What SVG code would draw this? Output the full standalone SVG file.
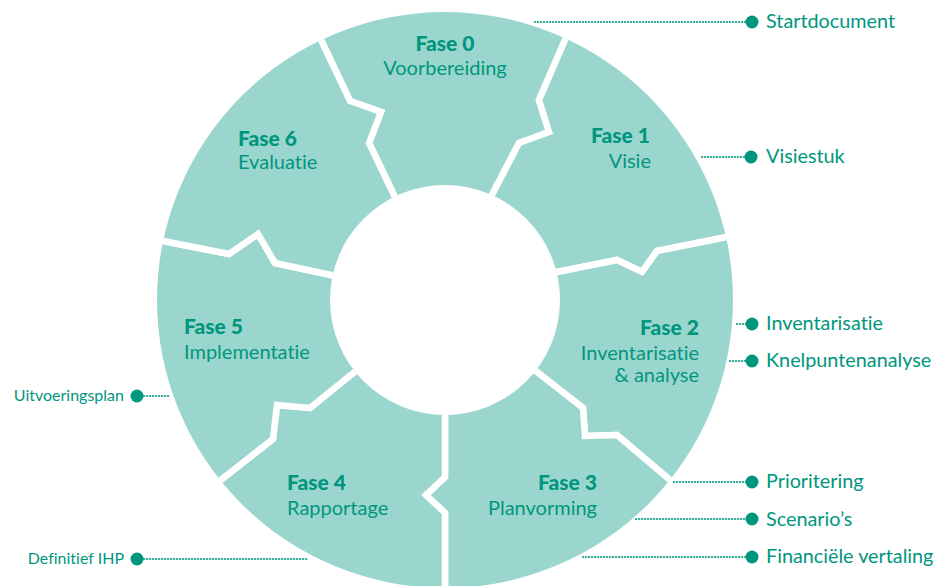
<svg xmlns="http://www.w3.org/2000/svg" width="939" height="586" viewBox="0 0 939 586">
<style>
.seg{fill:#9BD6CE;stroke:#fff;stroke-width:6.5;stroke-linejoin:miter}
text{font-variant-ligatures:none;font-feature-settings:"liga" 0}
.t{font-family:Lato,"Liberation Sans",sans-serif;fill:#00967E;font-size:20px}
.b{font-weight:900;font-size:21px}
.lab{font-family:Lato,"Liberation Sans",sans-serif;fill:#00967E;font-size:19.8px}
.sm{font-size:16px}
.ln{stroke:#00967E;stroke-width:1.3;stroke-dasharray:2.2 0.8;fill:none}
.dot{fill:#00967E}
</style>
<defs>
<clipPath id="ring"><path clip-rule="evenodd" d="M157,300a288,288 0 1,0 576,0a288,288 0 1,0 -576,0ZM330,300a115,115 0 1,0 230,0a115,115 0 1,0 -230,0Z"/></clipPath>
</defs>
<rect width="939" height="586" fill="#fff"/>
<g id="fase0">
<path class="seg" clip-path="url(#ring)" d="M445,300L393,193L369,143L381,112L350,101L322,42L264,-79L621,-81L565,40L539,100L549,132L519,143L493,193Z"/>
<text class="t b" x="445" y="51" text-anchor="middle">Fase 0</text>
<text class="t" x="445" y="75" text-anchor="middle">Voorbereiding</text>
</g>
<g id="fase1">
<path class="seg" clip-path="url(#ring)" d="M445,300L493,193L519,143L549,132L539,100L565,40L621,-81L855,208L727,237L657,251L642,272L617,260L557,272Z"/>
<text class="t b" x="650" y="143" text-anchor="end">Fase 1</text>
<text class="t" x="651" y="168" text-anchor="end">Visie</text>
</g>
<g id="fase2">
<path class="seg" clip-path="url(#ring)" d="M445,300L557,272L617,260L642,272L657,251L727,237L855,208L773,563L670,480L617,435L585,436L583,408L537,372Z"/>
<text class="t b" x="699" y="335" text-anchor="end">Fase 2</text>
<text class="t" x="699" y="360" text-anchor="end">Inventarisatie</text>
<text class="t" x="699" y="382" text-anchor="end">&amp; analyse</text>
</g>
<g id="fase3">
<path class="seg" clip-path="url(#ring)" d="M445,300L537,372L583,408L585,436L617,435L670,480L773,563L445,720L445,513L426,495L445,477L445,415Z"/>
<text class="t b" x="597" y="490" text-anchor="end">Fase 3</text>
<text class="t" x="597" y="515" text-anchor="end">Planvorming</text>
</g>
<g id="fase4">
<path class="seg" clip-path="url(#ring)" d="M445,300L445,415L445,477L426,495L445,513L445,720L117,562L222,479L273,439L277,405L310,408L352,374Z"/>
<text class="t b" x="287" y="490">Fase 4</text>
<text class="t" x="287" y="515">Rapportage</text>
</g>
<g id="fase5">
<path class="seg" clip-path="url(#ring)" d="M445,300L352,374L310,408L277,405L273,439L222,479L117,562L34,215L163,241L229,254L258,234L275,263L331,275Z"/>
<text class="t b" x="184" y="334">Fase 5</text>
<text class="t" x="184" y="359">Implementatie</text>
</g>
<g id="fase6">
<path class="seg" clip-path="url(#ring)" d="M445,300L331,275L275,263L258,234L229,254L163,241L34,215L264,-79L322,42L350,101L381,112L369,143L393,193Z"/>
<text class="t b" x="238" y="146">Fase 6</text>
<text class="t" x="238" y="169">Evaluatie</text>
</g>
<g id="connectors">
<line class="ln" x1="534" y1="22" x2="752" y2="22"/>
<line class="ln" x1="701" y1="157" x2="751" y2="157"/>
<line class="ln" x1="736" y1="324" x2="752" y2="324"/>
<line class="ln" x1="729" y1="361" x2="752" y2="361"/>
<line class="ln" x1="673" y1="482" x2="752" y2="482"/>
<line class="ln" x1="635" y1="519" x2="752" y2="519"/>
<line class="ln" x1="582" y1="557" x2="752" y2="557"/>
<line class="ln" x1="137" y1="396" x2="170" y2="396"/>
<line class="ln" x1="137" y1="559" x2="308" y2="559"/>
</g>
<g id="out-startdocument"><circle class="dot" cx="752" cy="22" r="6.5"/><text class="lab" x="766" y="28">Startdocument</text></g>
<g id="out-visiestuk"><circle class="dot" cx="751" cy="157" r="6.5"/><text class="lab" x="766" y="163">Visiestuk</text></g>
<g id="out-inventarisatie"><circle class="dot" cx="752" cy="324" r="6.5"/><text class="lab" x="766" y="330">Inventarisatie</text></g>
<g id="out-knelpunten"><circle class="dot" cx="752" cy="361" r="6.5"/><text class="lab" x="766" y="367">Knelpuntenanalyse</text></g>
<g id="out-prioritering"><circle class="dot" cx="752" cy="482" r="6.5"/><text class="lab" x="766" y="488">Prioritering</text></g>
<g id="out-scenarios"><circle class="dot" cx="752" cy="519" r="6.5"/><text class="lab" x="766" y="526">Scenario’s</text></g>
<g id="out-financieel"><circle class="dot" cx="752" cy="557" r="6.5"/><text class="lab" x="766" y="563">Financiële vertaling</text></g>
<g id="out-uitvoeringsplan"><circle class="dot" cx="137" cy="396" r="6.5"/><text class="lab sm" x="124" y="401" text-anchor="end">Uitvoeringsplan</text></g>
<g id="out-ihp"><circle class="dot" cx="137" cy="559" r="6.5"/><text class="lab sm" x="124" y="564" text-anchor="end">Definitief IHP</text></g>
</svg>
